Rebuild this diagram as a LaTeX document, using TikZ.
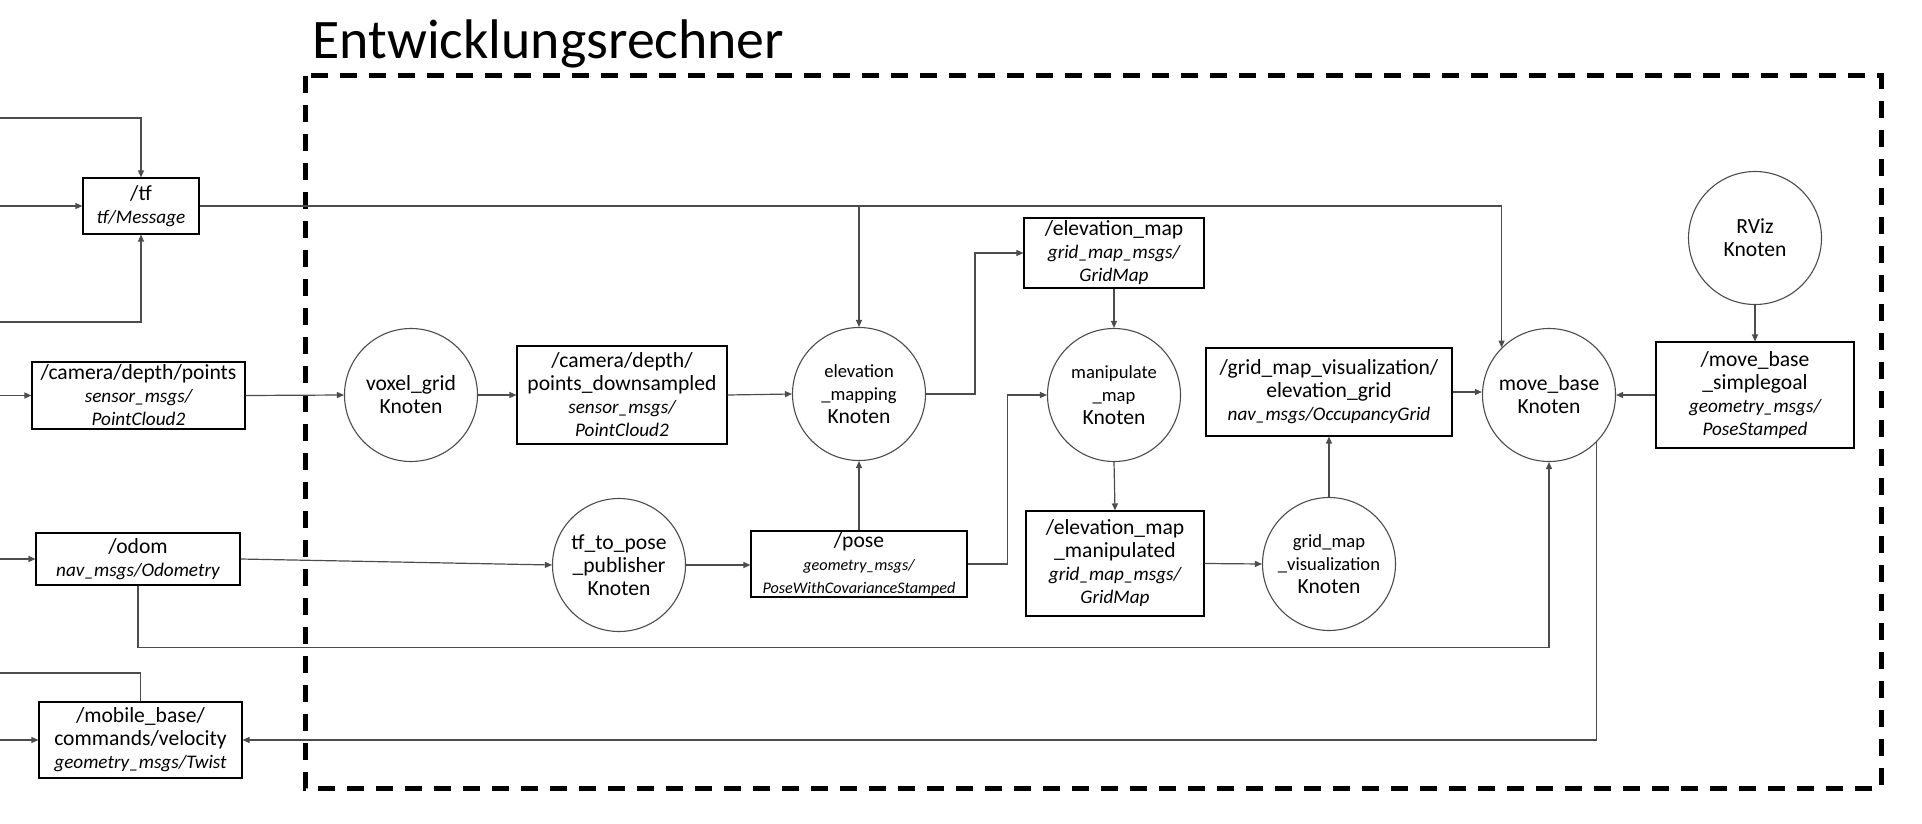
\documentclass[tikz,border=0pt]{standalone}
\usepackage{fontspec}
\setmainfont{Carlito}
\usetikzlibrary{arrows.meta,calc}
\newcommand\rgf{\fontsize{10.8}{11.5}\selectfont}
\newcommand\itf{\fontsize{9.6}{11}\selectfont\itshape}
\newcommand\its{\fontsize{8.1}{10}\selectfont\itshape}
\newcommand\smf{\fontsize{9.3}{11}\selectfont}
\begin{document}
\begin{tikzpicture}[x=0.5pt,y=-0.5pt,
  topic/.style={draw=black,line width=0.55pt,rectangle,inner sep=0pt,align=center,font=\rgf},
  knoten/.style={draw=black!70,line width=0.55pt,circle,inner sep=0pt,minimum size=66.5pt,align=center,font=\rgf},
  conn/.style={draw=black!70,line width=0.6pt},
  arr/.style={conn,-{Triangle[length=3.5pt,width=3pt]}},
  frame/.style={draw=black,line width=2.5pt,dash pattern=on 8.5pt off 6pt}
]
\useasboundingbox (0,0) rectangle (1922,824);

% title and frame
\node[anchor=base west,inner sep=0pt,font=\fontsize{27.9}{30}\selectfont] (title) at (312,59) {Entwicklungsrechner};
\draw[frame] (305,76) rectangle (1881,788);

% topics (boxes)
\node[topic,minimum width=58pt,minimum height=28pt] (tf) at (141,206) {/tf\\{\itf tf/Message}};
\node[topic,minimum width=106.5pt,minimum height=33.5pt] (cdp) at (138.5,395.5) {/camera/depth/points\\{\itf sensor\_msgs/}\\{\itf PointCloud2}};
\node[topic,minimum width=102pt,minimum height=26pt] (odom) at (138,559) {/odom\\{\itf nav\_msgs/Odometry}};
\node[topic,minimum width=101.5pt,minimum height=38pt] (mobile) at (140.5,740) {/mobile\_base/\\commands/velocity\\{\itf geometry\_msgs/Twist}};
\node[topic,minimum width=105pt,minimum height=49pt] (ds) at (622,395) {/camera/depth/\\points\_downsampled\\{\itf sensor\_msgs/}\\{\itf PointCloud2}};
\node[topic,minimum width=90pt,minimum height=35pt] (emap) at (1114,253) {/elevation\_map\\{\itf grid\_map\_msgs/}\\{\itf GridMap}};
\node[topic,minimum width=108pt,minimum height=33pt] (pose) at (859,564) {/pose\\{\its geometry\_msgs/}\\{\its PoseWithCovarianceStamped}};
\node[topic,minimum width=89pt,minimum height=52.5pt] (emm) at (1115,563.5) {/elevation\_map\\\_manipulated\\{\itf grid\_map\_msgs/}\\{\itf GridMap}};
\node[topic,minimum width=123pt,minimum height=44pt] (gmvb) at (1329,392) {/grid\_map\_visualization/\\elevation\_grid\\{\itf nav\_msgs/OccupancyGrid}};
\node[topic,minimum width=99pt,minimum height=53pt] (sg) at (1755,395) {/move\_base\\\_simplegoal\\{\itf geometry\_msgs/}\\{\itf PoseStamped}};

% nodes (circles)
\node[knoten] (voxel) at (411,395) {voxel\_grid\\Knoten};
\node[knoten] (em) at (859,394) {{\smf elevation}\\{\smf \_mapping}\\Knoten};
\node[knoten] (manip) at (1114,395) {{\smf manipulate}\\{\smf \_map}\\Knoten};
\node[knoten] (tfp) at (619,565) {tf\_to\_pose\\\_publisher\\Knoten};
\node[knoten] (gmvc) at (1329,564) {{\smf grid\_map}\\{\smf \_visualization}\\Knoten};
\node[knoten] (mb) at (1549,395) {move\_base\\Knoten};
\node[knoten] (rviz) at (1755,238) {RViz\\Knoten};

% free ends at the left margin
\coordinate (i1) at (0,118);
\coordinate (i2) at (0,206);
\coordinate (i3) at (0,322);
\coordinate (i4) at (0,395.5);
\coordinate (i5) at (0,559);
\coordinate (i6) at (0,740);
\coordinate (o1) at (0,673);

% connectors
\draw[arr] (i1) -| (tf.north);
\draw[arr] (i2) -- (tf.west);
\draw[arr] (i3) -| (tf.south);
\draw[arr] (tf.east) -| (mb.135);
\draw[arr] (tf.east -| em.north) -- (em.north);

\draw[arr] (i4) -- (cdp.west);
\draw[arr] (cdp.east) -- (voxel.west);
\draw[arr] (voxel.east) -- (voxel.east -| ds.west);
\draw[arr] (ds.east) -- (em.west);
\draw[arr] (em.east) -- ++(49,0) |- (emap.west);
\draw[arr] (emap.south) -- (manip.north);

\draw[arr] (i5) -- (odom.west);
\draw[arr] (odom.east) -- (tfp.west);
\draw[arr] (tfp.east) -- (tfp.east -| pose.west);
\draw[arr] (pose.north) -- (em.south);
\draw[arr] (pose.east) -- ++(40,0) |- (manip.west);
\draw[arr] (manip.south) -- (emm.north);
\draw[arr] (emm.east) -- (gmvc.west);
\draw[arr] (gmvc.north) -- (gmvb.south);
\draw[arr] (gmvb.east) -- (gmvb.east -| mb.west);
\draw[arr] (rviz.south) -- (sg.north);
\draw[arr] (sg.west) -- (mb.east);

\draw[arr] (odom.south) -- ++(0,62) -| (mb.south);
\draw[arr] (mb.-45) |- (mobile.east);
\draw[arr] (i6) -- (mobile.west);
\draw[conn] (mobile.north) |- (o1);
\end{tikzpicture}
\end{document}
